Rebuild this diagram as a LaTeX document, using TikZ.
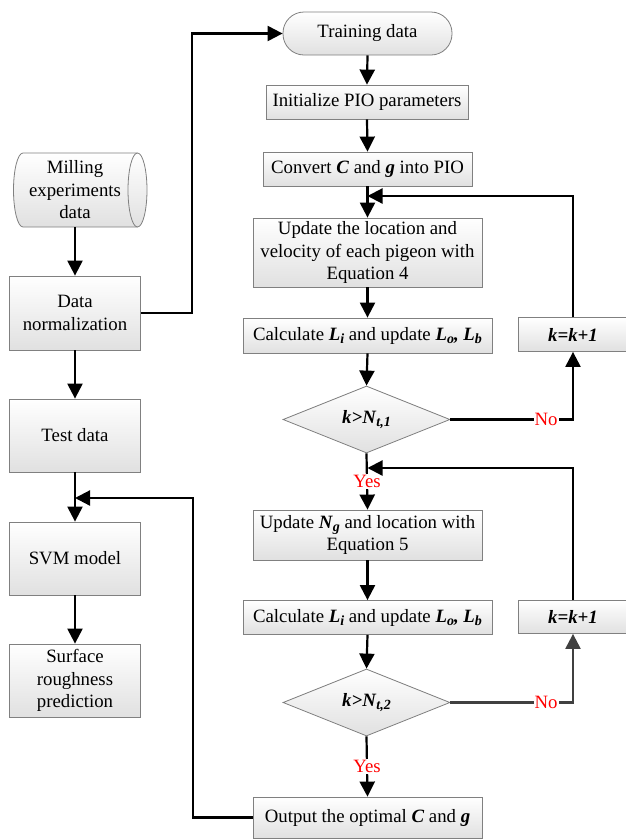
\documentclass[tikz,border=0pt]{standalone}
\usepackage{fontspec}
\setmainfont{Liberation Serif}
\usetikzlibrary{shapes.geometric,arrows.meta,calc}
\newcommand\bi[1]{\textbf{\textit{#1}}}
\newcommand\sbx[1]{\raisebox{-0.35ex}{\fontsize{14}{14}\selectfont\bi{#1}}}
\begin{document}
\begin{tikzpicture}[x=1pt,y=-1pt,
  every node/.style={font=\fontsize{18.8}{22.5}\selectfont},
  box/.style={draw=black!50, line width=0.8pt, top color=white, bottom color=black!12, inner sep=0pt, align=center},
  pill/.style={box, rounded corners=21pt},
  dia/.style={box, diamond, aspect=2.5, minimum width=167pt, minimum height=67pt},
  cylfill/.style={draw=black!50, line width=0.8pt, top color=white, bottom color=black!12},
  arr/.style={line width=2.2pt, -{Triangle[length=15pt,width=15pt]}},
  lbl/.style={fill=white, text=red, inner sep=1pt}
]
\useasboundingbox (0,0) rectangle (626,839);
\fill[white] (0,0) rectangle (626,839);
% left column: cylinder drawn directly
\path[cylfill] (23,153) -- (137.5,153) arc[start angle=-90, end angle=90, x radius=9.5, y radius=37]
  -- (23,227) arc[start angle=90, end angle=270, x radius=9.5, y radius=37] -- cycle;
\draw[draw=black!50, line width=0.8pt] (137.5,153) arc[start angle=-90, end angle=-270, x radius=9.5, y radius=37];
\node[inner sep=0pt, align=center, minimum height=74pt] (mill) at (75,190) {Milling\\experiments\\data};
\node[box, minimum width=131pt, minimum height=74pt] (norm) at (75,313) {Data\\normalization};
\node[box, minimum width=131pt, minimum height=73pt] (test) at (75,435.5) {Test data};
\node[box, minimum width=131pt, minimum height=73pt] (svm) at (75,558.5) {SVM model};
\node[box, minimum width=131pt, minimum height=73pt] (surf) at (75,680.5) {Surface\\roughness\\prediction};
% right column
\node[pill, minimum width=169pt, minimum height=43pt] (train) at (367.5,33.5) {Training data};
\node[box, minimum width=202pt, minimum height=34pt] (init) at (367,102) {Initialize PIO parameters};
\node[box, minimum width=209pt, minimum height=34pt] (conv) at (367.5,169) {Convert \bi{C} and \bi{g} into PIO};
\node[box, minimum width=229pt, minimum height=69pt] (upd) at (367.5,252.5) {Update the location and\\velocity of each pigeon with\\Equation 4};
\node[box, minimum width=249pt, minimum height=35pt] (calc1) at (367.5,335.5) {Calculate \bi{L}\sbx{i} and update \bi{L}\sbx{o}\bi{, L}\sbx{b}};
\node[box, minimum width=110pt, minimum height=34pt] (kb1) at (573,334.5) {\bi{k=k+1}};
\node[dia] (d1) at (366.5,419.5) {\bi{k>N}\sbx{t,1}};
\node[box, minimum width=229pt, minimum height=50pt] (updg) at (367.5,535) {Update \bi{N}\sbx{g} and location with\\Equation 5};
\node[box, minimum width=249pt, minimum height=34pt] (calc2) at (367.5,617.5) {Calculate \bi{L}\sbx{i} and update \bi{L}\sbx{o}\bi{, L}\sbx{b}};
\node[box, minimum width=110pt, minimum height=33pt] (kb2) at (573,617) {\bi{k=k+1}};
\node[dia] (d2) at (366.5,702.5) {\bi{k>N}\sbx{t,2}};
\node[box, minimum width=229pt, minimum height=41pt] (out) at (367.5,817.5) {Output the optimal \bi{C} and \bi{g}};
% coordinates
\coordinate (c1) at (192,313);
\coordinate (j1) at (367.5,196);
\coordinate (j2) at (367.5,468);
\coordinate (j3) at (75,498);
\coordinate (n1) at (573,419.5);
\coordinate (n2) at (573,702.5);
\coordinate (c2) at (193,817.5);
% left connectors
\draw[arr] (mill.south) -- (norm.north);
\draw[arr] (norm.south) -- (test.north);
\draw[arr] (test.south) -- (svm.north);
\draw[arr] (svm.south) -- (surf.north);
\draw[arr] (norm.east) -- (c1) |- (train.west);
\draw[arr] (out.west) -- (c2) |- (j3);
% right connectors
\draw[arr] (train.south) -- (init.north);
\draw[arr] (init.south) -- (conv.north);
\draw[arr] (conv.south) -- (upd.north);
\draw[arr] (upd.south) -- (calc1.north);
\draw[arr] (calc1.south) -- (d1.north);
\draw[arr] (d1.east) -- node[lbl, pos=0.78]{No} (n1) -- (kb1.south);
\draw[arr] (kb1.north) |- (j1);
\draw[arr] (d1.south) -- node[lbl]{Yes} (updg.north);
\draw[arr] (kb2.north) |- (j2);
\draw[arr] (updg.south) -- (calc2.north);
\draw[arr] (calc2.south) -- (d2.north);
\draw[arr, black!75] (d2.east) -- node[lbl, pos=0.78]{No} (n2) -- (kb2.south);
\draw[arr] (d2.south) -- node[lbl]{Yes} (out.north);
\end{tikzpicture}
\end{document}
